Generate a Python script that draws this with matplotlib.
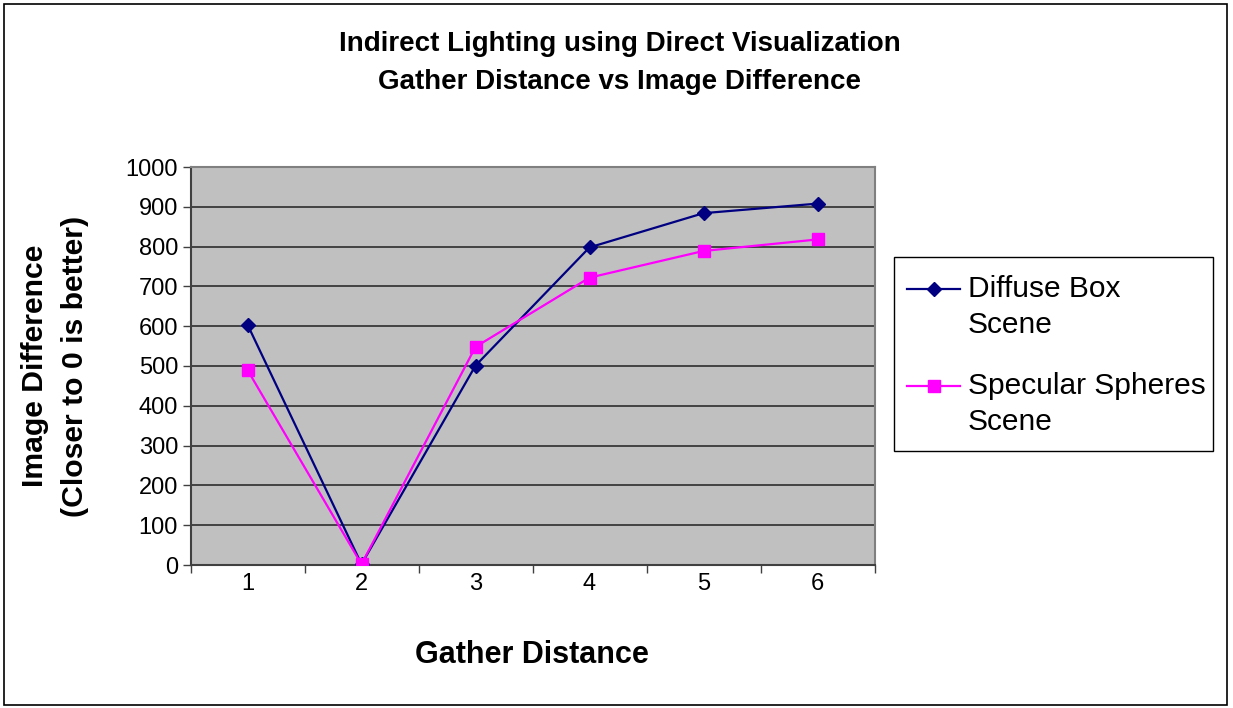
import matplotlib
matplotlib.use("Agg")
import matplotlib.pyplot as plt
from matplotlib.patches import Rectangle
from matplotlib.lines import Line2D

categories = ["1", "2", "3", "4", "5", "6"]
diffuse = [604, 2, 501, 798, 884, 908]
specular = [490, 2, 548, 722, 789, 818]
yticks = [0, 100, 200, 300, 400, 500, 600, 700, 800, 900, 1000]
series_names = ["Diffuse Box\nScene", "Specular Spheres\nScene"]
series_colors = ['#000080', '#ff00ff']
series_markers = ['D', 's']

plt.rcParams['font.family'] = ['Liberation Sans', 'DejaVu Sans']

W, H = 1233, 708
fig = plt.figure(figsize=(W / 100, H / 100), dpi=100)
fig.patch.set_facecolor('white')


def fx(px):
    return px / W


def fy(py):
    return 1 - py / H


# outer frame
fig.add_artist(Rectangle((fx(4), fy(705)), 1223 / W, 701 / H, transform=fig.transFigure,
                         fill=False, edgecolor='black', linewidth=1.2))

left, right, top, bottom = 190.5, 874.5, 167, 565
ax = fig.add_axes([fx(left), fy(bottom), (right - left) / W, (bottom - top) / H])
ax.set_facecolor('#c0c0c0')

x = list(range(len(categories)))
ax.plot(x, diffuse, color=series_colors[0], marker=series_markers[0], markersize=7,
        linewidth=1.6, zorder=3)
ax.plot(x, specular, color=series_colors[1], marker=series_markers[1], markersize=8,
        linewidth=1.6, zorder=3)

ax.set_xlim(-0.5, len(categories) - 0.5)
ax.set_ylim(0, 1000)
ax.set_yticks(yticks)
ax.set_yticklabels([str(v) for v in yticks], fontsize=17)
ax.set_xticks(x)
ax.set_xticklabels(categories, fontsize=17)
ax.set_xticks([i - 0.5 for i in range(len(categories) + 1)], minor=True)
ax.tick_params(axis='x', which='major', length=0, pad=6)
ax.tick_params(axis='x', which='minor', length=6, width=1, color='#404040')
ax.tick_params(axis='y', which='major', length=6, width=1, color='#404040', pad=3)

for v in yticks[1:]:
    ax.axhline(v, color='#202020', linewidth=1.1, zorder=1)

for s in ['top', 'right']:
    ax.spines[s].set_color('#808080')
    ax.spines[s].set_linewidth(1.5)
for s in ['left', 'bottom']:
    ax.spines[s].set_color('#404040')
    ax.spines[s].set_linewidth(1.5)

fig.text(fx(620), fy(44), "Indirect Lighting using Direct Visualization",
         ha='center', va='center', fontsize=20, fontweight='bold')
fig.text(fx(620), fy(82), "Gather Distance vs Image Difference",
         ha='center', va='center', fontsize=20, fontweight='bold')
fig.text(fx(532), fy(655), "Gather Distance", ha='center', va='center',
         fontsize=22, fontweight='bold')
fig.text(fx(35), fy(366), "Image Difference", ha='center', va='center',
         rotation=90, fontsize=21.7, fontweight='bold')
fig.text(fx(75), fy(366), "(Closer to 0 is better)", ha='center', va='center',
         rotation=90, fontsize=21.7, fontweight='bold')

# legend (manual, Excel-style)
fig.add_artist(Rectangle((fx(894), fy(451)), (1213 - 894) / W, (451 - 257) / H,
                         transform=fig.transFigure, facecolor='white',
                         edgecolor='black', linewidth=1.0))
entry_y = [289, 386]
for name, col, mk, ey in zip(series_names, series_colors, series_markers, entry_y):
    fig.add_artist(Line2D([fx(907), fx(960)], [fy(ey), fy(ey)], transform=fig.transFigure,
                          color=col, linewidth=1.6))
    fig.add_artist(Line2D([fx(933.5)], [fy(ey)], transform=fig.transFigure, color=col,
                          marker=mk, markersize=7 if mk == 'D' else 8, linestyle='none'))
    fig.text(fx(968), fy(ey - 14), name, ha='left', va='top', fontsize=21.5,
             linespacing=1.35)

fig.savefig("out.png", dpi=100, facecolor='white')
